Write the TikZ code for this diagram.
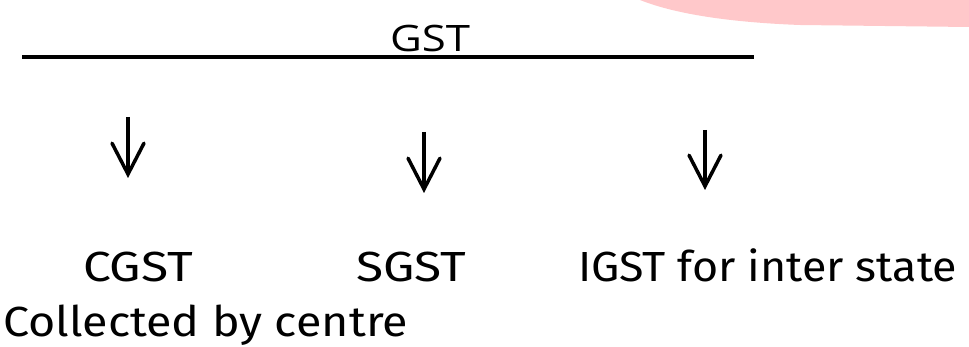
\documentclass[tikz,border=0pt]{standalone}
\usepackage{fontspec}
\usepackage{graphicx}
\setmainfont{Fira Sans}
\newfontfamily\topfont{Open Sans}
\usetikzlibrary{arrows.meta}
\definecolor{wmpink}{HTML}{FFC8CA}
\newcommand\fittext[3]{%
  \setbox0\hbox{#3}\setbox2\hbox{I}%
  \pgfmathsetmacro\fitsx{#1/\the\wd0}%
  \pgfmathsetmacro\fitsy{#2/\the\ht2}%
  \scalebox{\fitsx}[\fitsy]{\box0}}
\tikzset{
  lbl/.style={inner sep=0pt, outer sep=0pt, anchor=base west, font=\fontsize{40}{44}\selectfont},
  toplbl/.style={inner sep=0pt, outer sep=0pt, anchor=base west, font=\topfont\fontsize{36}{40}\selectfont},
  downarrow/.style={line width=3.5pt, -{Straight Barb[length=31pt,width=32pt,line cap=round]}}
}
\begin{document}
\begin{tikzpicture}[x=1pt,y=-1pt]
\useasboundingbox (0,0) rectangle (969,347);
% watermark band
\fill[wmpink] (640,0) .. controls (670,12) and (720,22) .. (800,25) -- (969,27) -- (969,0) -- cycle;
% title
\node[toplbl] (gst) at (390,52) {\fittext{80}{26}{GST}};
\coordinate (ls) at (22,57);
\coordinate (le) at (754,57);
\draw[line width=4pt] (ls) -- (le);
% arrows
\coordinate (a1t) at (128,117);
\coordinate (a1b) at (128,178);
\coordinate (a2t) at (424,132);
\coordinate (a2b) at (424,193);
\coordinate (a3t) at (705,130);
\coordinate (a3b) at (705,190);
\draw[downarrow] (a1t) -- (a1b);
\draw[downarrow] (a2t) -- (a2b);
\draw[downarrow] (a3t) -- (a3b);
% labels
\node[lbl] (cgst) at (83,282) {\fittext{110}{29}{CGST}};
\node[lbl] (sgst) at (356,282) {\fittext{110}{29}{SGST}};
\node[lbl] (igst) at (578,282) {\fittext{379}{29}{IGST for inter state}};
\node[lbl] (coll) at (3,336) {\fittext{405}{29}{Collected by centre}};
\end{tikzpicture}
\end{document}
